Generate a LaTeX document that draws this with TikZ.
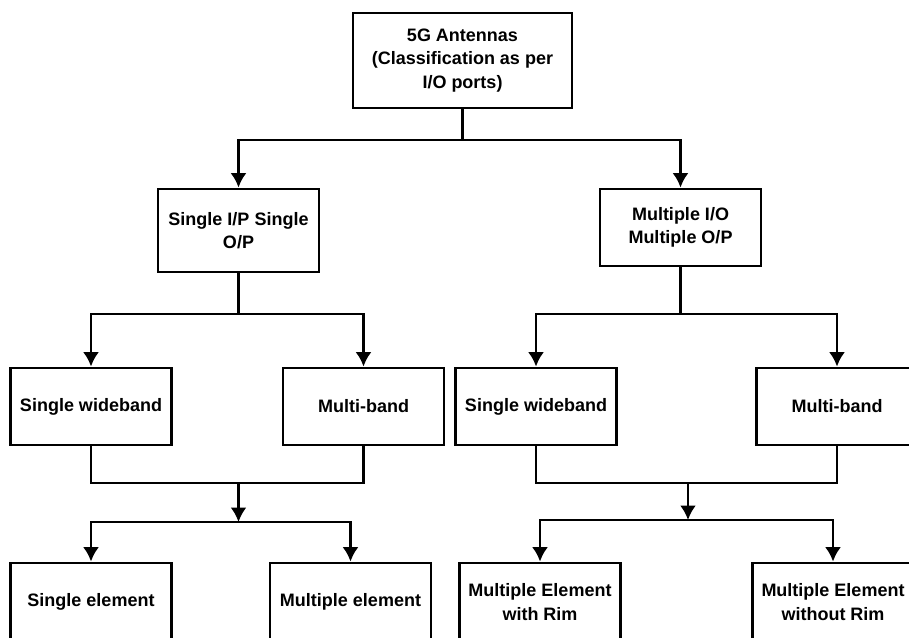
\documentclass[tikz,border=0pt]{standalone}
\usepackage{fontspec}
\setmainfont{Liberation Sans}
\usepackage{tikz}
\usetikzlibrary{shapes,arrows.meta}
\tikzset{
	block/.style     = {draw, line width = 2pt, rectangle, align = center,
		minimum width = 4.025cm, minimum height = 1.925cm, inner sep = 0pt,
		font = \boxfont},
	rootblock/.style = {minimum width = 5.475cm, minimum height = 2.375cm},
	tallblock/.style = {minimum height = 2.075cm},
	lowblock/.style  = {minimum height = 1.95cm},
	joint/.style     = {coordinate} % Junction
}
\newcommand{\boxfont}{\fontsize{12.8}{16.5}\selectfont\bfseries}

\begin{document}
\begin{tikzpicture}[x=0.025cm, y=-0.025cm, line width=2pt, >={Latex[length=0.36cm, width=0.4cm]}]
	\useasboundingbox (0,0) rectangle (909,638);
	\clip (0,0) rectangle (909,638);
	\draw
	% Root and the two port classes
	node at (462.5,60.5)[block, rootblock] (root) {5G Antennas\\(Classification as per\\I/O ports)}
	node at (238.5,230.5)[block, tallblock] (siso) {Single I/P Single\\O/P}
	node at (680.5,227.5)[block] (mimo) {Multiple I/O\\Multiple O/P}
	% Band classes
	node at (91,406.5)[block] (swL) {Single wideband}
	node at (363.5,406.5)[block] (mbL) {Multi-band}
	node at (536,406.5)[block] (swR) {Single wideband}
	node at (837,406.5)[block] (mbR) {Multi-band}
	% Element classes
	node at (91,602)[block, lowblock] (seL) {Single element}
	node at (350.5,602)[block, lowblock] (meL) {Multiple element}
	node at (540,602)[block, lowblock] (rimR) {Multiple Element\\with Rim}
	node at (833,602)[block, lowblock] (norimR) {Multiple Element\\without Rim};
	
	\coordinate (j1) at (root.south |- 0,140);
	\coordinate (j2) at (siso.south |- 0,314);
	\coordinate (j3) at (siso.south |- 0,483);
	\coordinate (j4) at (siso.south |- 0,522);
	\coordinate (k2) at (mimo.south |- 0,314);
	\coordinate (k3) at (688,483);
	\coordinate (k4) at (688,520);
	
	\draw (root.south) -- (j1);
	\draw[->] (j1) -| (siso.north);
	\draw[->] (j1) -| (mimo.north);
	
	% Left branch
	\draw (siso.south) -- (j2);
	\draw[->] (j2) -| (swL.north);
	\draw[->] (j2) -| (mbL.north);
	\draw (swL.south) |- (j3) -| (mbL.south);
	\draw[->] (j3) -- (j4);
	\draw[->] (j4) -| (seL.north);
	\draw[->] (j4) -| (meL.north);
	
	% Right branch
	\draw (mimo.south) -- (k2);
	\draw[->] (k2) -| (swR.north);
	\draw[->] (k2) -| (mbR.north);
	\draw (swR.south) |- (k3) -| (mbR.south);
	\draw[->] (k3) -- (k4);
	\draw[->] (k4) -| (rimR.north);
	\draw[->] (k4) -| (norimR.north);
	
\end{tikzpicture}
\end{document}
